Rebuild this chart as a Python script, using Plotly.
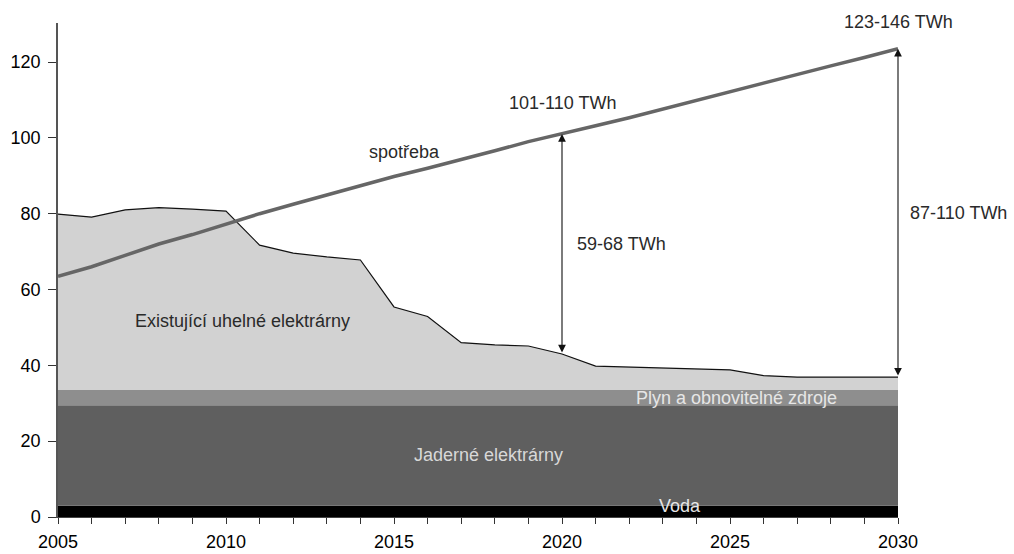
import plotly.graph_objects as go

# Years and generation sources (TWh)
years = list(range(2005, 2031))
voda = [3.0] * 26
jaderne = [26.5] * 26
plyn_obnovitelne = [4.0] * 26
uhelne = [46.4, 45.6, 47.5, 48.1, 47.7, 47.2, 38.2, 36.1, 35.1, 34.3,
          21.9, 19.4, 12.5, 11.9, 11.6, 9.5, 6.3, 6.1, 5.8, 5.5,
          5.3, 3.8, 3.4, 3.4, 3.4, 3.4]
spotreba = [63.5, 66.0, 69.0, 72.0, 74.5, 77.3, 80.0, 82.5, 85.0, 87.5,
            89.8, 92.0, 94.2, 96.6, 99.0, 101.0, 103.2, 105.3, 107.6, 109.9,
            112.3, 114.5, 116.7, 119.0, 121.2, 123.5]

# Labels for the gap between demand and existing supply
gap_years = [2020, 2030]
gap_labels = ["59-68 TWh", "87-110 TWh"]
demand_labels = ["101-110 TWh", "123-146 TWh"]

FONT = "Liberation Sans, Arial, sans-serif"
X0, X1 = 2005, 2030
YMAX = 130.3

fig = go.Figure()

bands = [
    ("Voda", voda, "#000000"),
    ("Jaderné elektrárny", jaderne, "#5f5f5f"),
    ("Plyn a obnovitelné zdroje", plyn_obnovitelne, "#8e8e8e"),
]
for name, vals, col in bands:
    fig.add_trace(go.Scatter(x=years, y=vals, name=name, stackgroup="s",
                             mode="lines", line=dict(width=0, color=col),
                             fillcolor=col, hoverinfo="skip"))
fig.add_trace(go.Scatter(x=years, y=uhelne, name="Existující uhelné elektrárny",
                         stackgroup="s", mode="lines",
                         line=dict(width=1.2, color="#111111"),
                         fillcolor="#d2d2d2", hoverinfo="skip"))
fig.add_trace(go.Scatter(x=years, y=spotreba, name="spotřeba", mode="lines",
                         line=dict(width=3.5, color="#666666"), hoverinfo="skip"))

supply_top = [v + j + p + u for v, j, p, u in zip(voda, jaderne, plyn_obnovitelne, uhelne)]

# Double-headed arrows marking the shortfall
for yr in gap_years:
    i = years.index(yr)
    fig.add_annotation(x=yr, y=spotreba[i], ax=yr, ay=supply_top[i],
                       xref="x", yref="y", axref="x", ayref="y", text="",
                       showarrow=True, arrowhead=2, arrowside="end+start",
                       arrowsize=1.4, arrowwidth=1.1, arrowcolor="#111111")


def px(yr):
    return (yr - X0) / (X1 - X0)


def py(v):
    return v / YMAX


SIZE = 18
text_font = dict(family=FONT, size=SIZE, color="#2a2a2a")
light = dict(family=FONT, size=SIZE, color="#e6e6e6")
labels = [
    (2020.4, 72.0, gap_labels[0], "left", text_font),
    (2030.3, 80.2, gap_labels[1], "left", text_font),
    (2020.0, 109.3, demand_labels[0], "center", text_font),
    (2030.0, 130.6, demand_labels[1], "center", text_font),
    (2015.3, 96.3, "spotřeba", "center", text_font),
    (2010.5, 51.7, "Existující uhelné elektrárny", "center", text_font),
    (2025.2, 31.4, "Plyn a obnovitelné zdroje", "center", light),
    (2017.8, 16.3, "Jaderné elektrárny", "center",
     dict(family=FONT, size=SIZE, color="#d8d8d8")),
    (2023.5, 3.0, "Voda", "center", light),
]
for lx, ly, txt, anchor, f in labels:
    fig.add_annotation(x=px(lx), y=py(ly), xref="paper", yref="paper",
                       text=txt, showarrow=False, xanchor=anchor,
                       yanchor="middle", font=f)

tick_font = dict(family=FONT, size=18, color="#000000")
fig.update_layout(
    width=1014, height=554,
    margin=dict(l=58, r=116, t=23, b=37),
    plot_bgcolor="white", paper_bgcolor="white",
    showlegend=False,
    font=dict(family=FONT, size=18, color="#111111"),
    xaxis=dict(range=[X0, X1], tickmode="array", tickvals=years,
               ticktext=[str(y) if y % 5 == 0 else "" for y in years],
               tickangle=0, automargin=False,
               ticks="outside", ticklen=6, tickcolor="#333333",
               ticklabelstandoff=2,
               showgrid=False, zeroline=False, showline=True,
               linecolor="#444444", linewidth=1,
               tickfont=tick_font),
    yaxis=dict(range=[0, YMAX], tickmode="array",
               tickvals=[0, 20, 40, 60, 80, 100, 120],
               automargin=False,
               ticks="outside", ticklen=8, tickcolor="#333333",
               ticklabelstandoff=4,
               showgrid=False, zeroline=False, showline=True,
               linecolor="#555555", linewidth=1.5,
               tickfont=tick_font),
)

fig.write_html("out.html")
